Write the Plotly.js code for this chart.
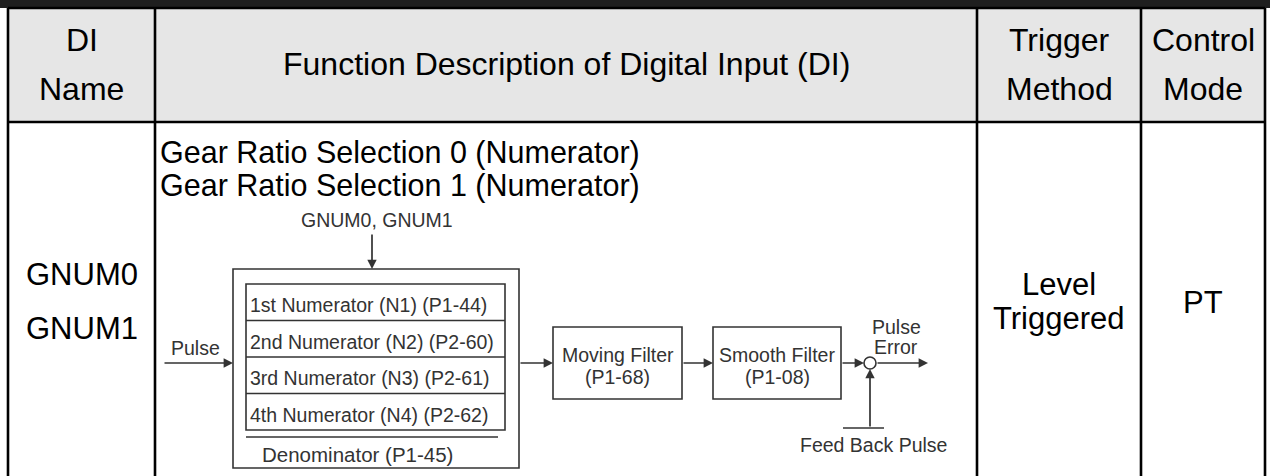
<!DOCTYPE html>
<html>
<head>
<meta charset="utf-8">
<script src="https://cdn.plot.ly/plotly-3.0.1.min.js"></script>
<style>html,body{margin:0;padding:0;background:#fff;}#chart{width:1270px;height:476px;}</style>
</head>
<body>
<div id="chart"></div>
<script>
// ---- table content ----
const headerLines = [["DI", "Name"], ["Function Description of Digital Input (DI)"], ["Trigger", "Method"], ["Control", "Mode"]];
const diNames = ["GNUM0", "GNUM1"];
const descLines = ["Gear Ratio Selection 0 (Numerator)", "Gear Ratio Selection 1 (Numerator)"];
const triggerLines = ["Level", "Triggered"];
const modeLines = ["PT"];
// ---- diagram content ----
const selectLabel = "GNUM0, GNUM1";
const inputLabel = "Pulse";
const numerators = ["1st Numerator (N1) (P1-44)", "2nd Numerator (N2) (P2-60)", "3rd Numerator (N3) (P2-61)", "4th Numerator (N4) (P2-62)"];
const denominator = "Denominator (P1-45)";
const filters = [["Moving Filter", "(P1-68)"], ["Smooth Filter", "(P1-08)"]];
const errorLines = ["Pulse", "Error"];
const feedbackLabel = "Feed Back Pulse";

// ---- geometry (pixels) ----
const colEdges = [8, 155, 977, 1141, 1265];
const headTop = 8, headBottom = 122, tableBottom = 480;
const BIG = 'Liberation Sans, Arial, sans-serif';
const DG = '#333333';
const HEAD = 32, BODY = 31, DESC = 30.5, SM = 19.5;

const shapes = [];
const ann = [];
function txt(x, y, t, size, color, xanchor) {
  ann.push({x: x, y: y, xref: 'x', yref: 'y', text: t, showarrow: false,
    xanchor: xanchor || 'center', yanchor: 'middle',
    font: {family: BIG, size: size, color: color || '#000'}});
}
function line(x0, y0, x1, y1, w, c) {
  shapes.push({type: 'line', xref: 'x', yref: 'y', x0: x0, y0: y0, x1: x1, y1: y1,
    line: {color: c || '#000', width: w}});
}
function rect(x0, y0, x1, y1, w, c, fill) {
  shapes.push({type: 'rect', xref: 'x', yref: 'y', x0: x0, y0: y0, x1: x1, y1: y1,
    line: {color: c || '#000', width: w}, fillcolor: fill || 'rgba(0,0,0,0)', layer: 'above'});
}
function arrow(x0, y0, x1, y1) {
  ann.push({x: x1, y: y1, ax: x0, ay: y0, xref: 'x', yref: 'y', axref: 'x', ayref: 'y',
    text: '', showarrow: true, arrowhead: 2, arrowsize: 1.1, arrowwidth: 1.7, arrowcolor: DG, standoff: 0});
}

// top dark band and header background
shapes.push({type: 'rect', xref: 'x', yref: 'y', x0: 0, y0: 0, x1: 1270, y1: headTop, line: {width: 0}, fillcolor: '#1f1f1f', layer: 'below'});
shapes.push({type: 'rect', xref: 'x', yref: 'y', x0: colEdges[0], y0: headTop, x1: colEdges[4], y1: headBottom, line: {width: 0}, fillcolor: '#e6e6e6', layer: 'below'});
// grid lines
line(colEdges[0], headTop, colEdges[4], headTop, 2.5);
line(colEdges[0], headBottom, colEdges[4], headBottom, 2.5);
colEdges.forEach(x => line(x, headTop, x, tableBottom, 2.6));

// header text
headerLines.forEach((lines, i) => {
  const cx = (colEdges[i] + colEdges[i + 1]) / 2;
  if (lines.length === 1) txt(cx, 64, lines[0], HEAD);
  else { txt(cx, 40, lines[0], HEAD); txt(cx, 89, lines[1], HEAD); }
});

// body text
txt((colEdges[0] + colEdges[1]) / 2, 274, diNames[0], BODY);
txt((colEdges[0] + colEdges[1]) / 2, 328, diNames[1], BODY);
txt(colEdges[1] + 3, 152, descLines[0], DESC, '#000', 'left');
txt(colEdges[1] + 3, 185, descLines[1], DESC, '#000', 'left');
txt((colEdges[2] + colEdges[3]) / 2, 284, triggerLines[0], BODY);
txt((colEdges[2] + colEdges[3]) / 2, 318, triggerLines[1], BODY);
txt((colEdges[3] + colEdges[4]) / 2, 302, modeLines[0], BODY);

// ---- diagram ----
txt(377, 220, selectLabel, SM, DG);
arrow(372, 233, 372, 269);
rect(233, 269, 519, 468, 1.6, DG);
const inTop = 284, rowH = 36.5;
rect(246, inTop, 505, inTop + 4 * rowH, 1.6, DG);
numerators.forEach((t, i) => {
  if (i > 0) line(246, inTop + i * rowH, 505, inTop + i * rowH, 1.6, DG);
  txt(248, inTop + (i + 0.5) * rowH + 3, t, SM, DG, 'left');
});
line(246, 437, 498, 437, 1.6, DG);
txt(357, 454, denominator, 20.5, DG);
txt(195, 348, inputLabel, SM, DG);
arrow(163, 363, 233, 363);
arrow(519, 363, 553, 363);
const fBoxes = [[553, 682], [713, 841]];
fBoxes.forEach((b, i) => {
  rect(b[0], 327, b[1], 399, 1.6, DG);
  txt((b[0] + b[1]) / 2, 355, filters[i][0], SM, DG);
  txt((b[0] + b[1]) / 2, 377, filters[i][1], SM, DG);
});
arrow(682, 363, 713, 363);
arrow(841, 363, 864, 363);
shapes.push({type: 'circle', xref: 'x', yref: 'y', x0: 864, y0: 357, x1: 876, y1: 369, line: {color: DG, width: 1.6}, fillcolor: '#fff', layer: 'above'});
arrow(876, 363, 928, 363);
txt(896, 327, errorLines[0], SM, DG);
txt(896, 347, errorLines[1], SM, DG);
arrow(870, 428, 870, 369);
line(843, 428, 884, 428, 1.6, DG);
txt(873, 445, feedbackLabel, SM, DG);

const layout = {
  width: 1270, height: 476,
  margin: {l: 0, r: 0, t: 0, b: 0},
  paper_bgcolor: '#fff', plot_bgcolor: '#fff',
  xaxis: {range: [0, 1270], visible: false, fixedrange: true},
  yaxis: {range: [476, 0], visible: false, fixedrange: true},
  showlegend: false,
  shapes: shapes, annotations: ann
};
Plotly.newPlot('chart', [{x: [], y: [], type: 'scatter', mode: 'markers', hoverinfo: 'skip'}], layout, {staticPlot: true, displayModeBar: false});
</script>
</body>
</html>
